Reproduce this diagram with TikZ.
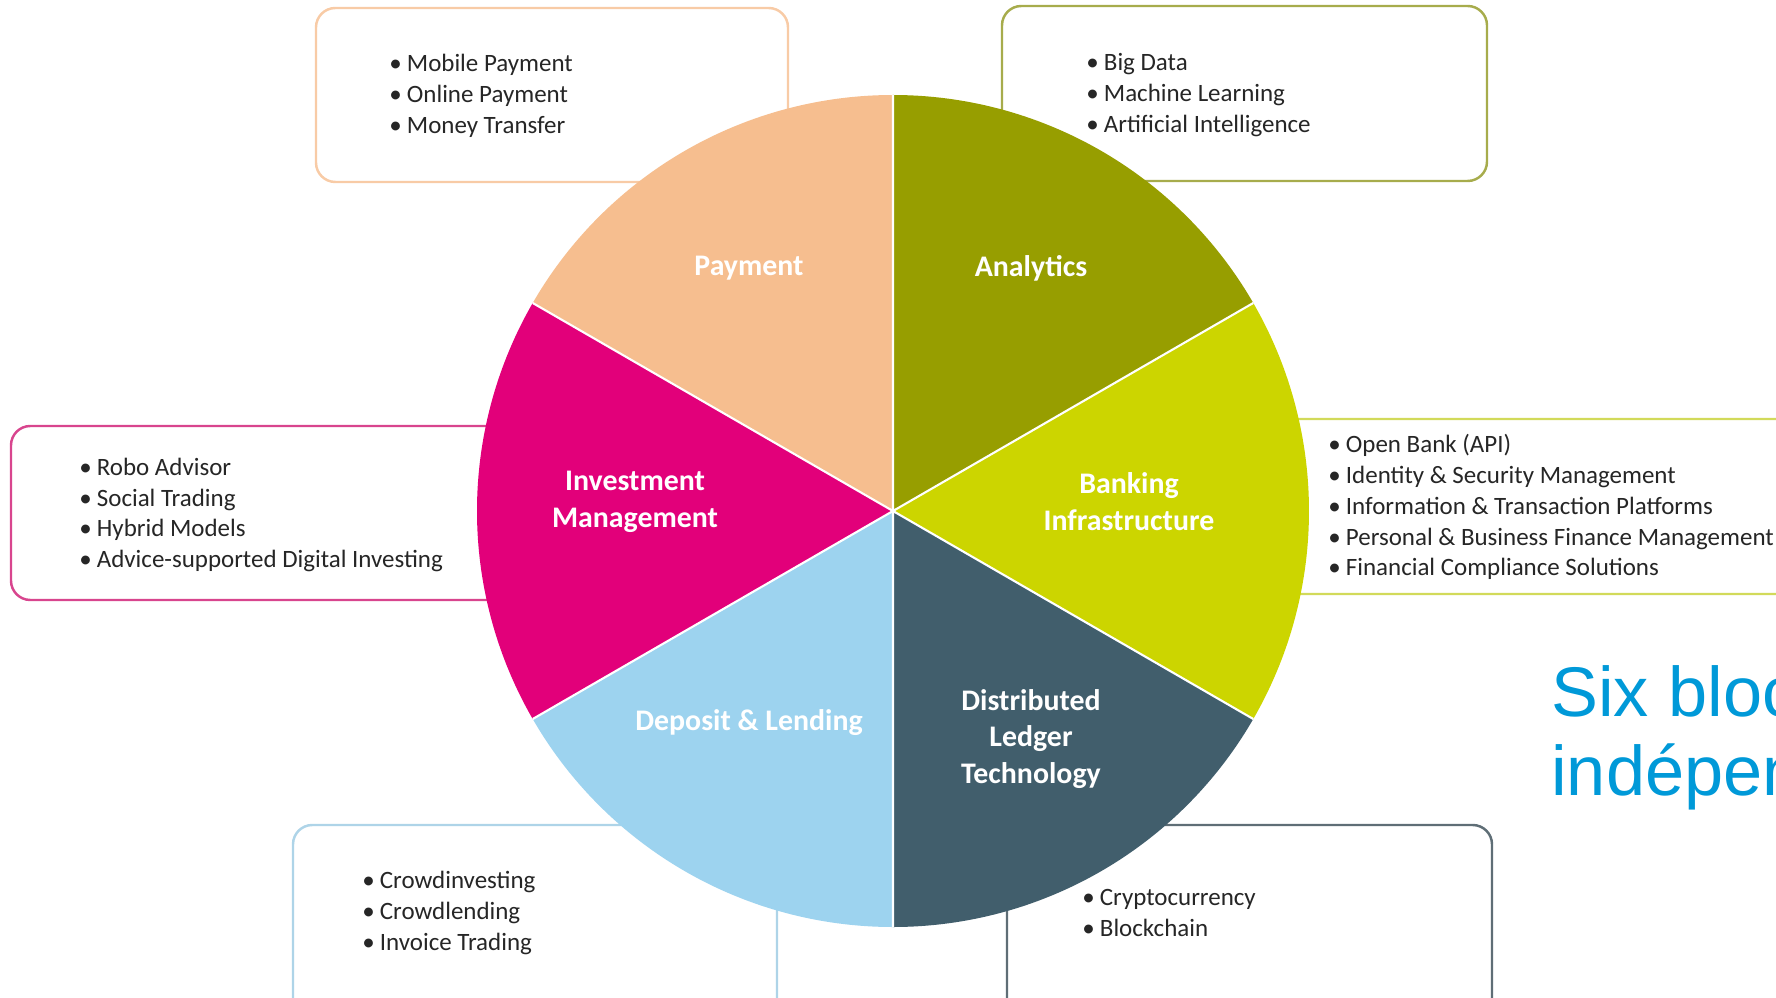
\documentclass[tikz,border=0pt]{standalone}
\usepackage{fontspec}
\setmainfont{Carlito}
\newfontfamily\titlefont{Liberation Sans}

\definecolor{paycol}{HTML}{F6BE8F}
\definecolor{anacol}{HTML}{979E00}
\definecolor{bankcol}{HTML}{CCD500}
\definecolor{dltcol}{HTML}{415E6C}
\definecolor{depcol}{HTML}{9DD3EF}
\definecolor{invcol}{HTML}{E2007A}
\definecolor{payline}{HTML}{F8CBA6}
\definecolor{analine}{HTML}{A7AC4C}
\definecolor{bankline}{HTML}{D2DA5A}
\definecolor{dltline}{HTML}{5F6E76}
\definecolor{depline}{HTML}{AED4E8}
\definecolor{invline}{HTML}{D8458E}
\definecolor{textgray}{HTML}{262626}
\definecolor{sixblue}{HTML}{0099D8}

\tikzset{
  seglabel/.style={text=white, font=\bfseries\fontsize{17}{21}\selectfont, align=center},
  itemlist/.style={text=textgray, font=\fontsize{14.2}{17.6}\selectfont, align=left, anchor=west, inner sep=0pt},
  listbox/.style={line width=1.4pt, rounded corners=11pt, fill=white},
}
\newcommand{\itm}[1]{\makebox[10pt][l]{\textbullet}#1}

\begin{document}
\begin{tikzpicture}[scale=0.2]
\useasboundingbox (0,0) rectangle (177.6,99.7);
\clip (0,0) rectangle (177.6,99.7);

% boxes behind the wheel
\draw[listbox, draw=payline] (31.6,81.5) rectangle (78.8,98.9);
\draw[listbox, draw=analine] (100.2,81.6) rectangle (148.7,99.1);
\draw[listbox, draw=invline] (1.1,39.7) rectangle (55,57.1);
\draw[listbox, draw=bankline] (120,40.3) rectangle (182,57.8);
\draw[listbox, draw=depline] (29.3,-3) rectangle (77.7,17.2);
\draw[listbox, draw=dltline] (100.7,-3) rectangle (149.2,17.2);

% wheel
\coordinate (c) at (89.3,48.6);
\fill[paycol] (c) -- ++(90:41.6) arc[start angle=90, end angle=150, radius=41.6] -- cycle;
\fill[invcol] (c) -- ++(150:41.6) arc[start angle=150, end angle=210, radius=41.6] -- cycle;
\fill[depcol] (c) -- ++(210:41.6) arc[start angle=210, end angle=270, radius=41.6] -- cycle;
\fill[dltcol] (c) -- ++(270:41.6) arc[start angle=270, end angle=330, radius=41.6] -- cycle;
\fill[bankcol] (c) -- ++(-30:41.6) arc[start angle=-30, end angle=30, radius=41.6] -- cycle;
\fill[anacol] (c) -- ++(30:41.6) arc[start angle=30, end angle=90, radius=41.6] -- cycle;
\draw[white, line width=1.2pt] (c) -- ++(90:41.6) (c) -- ++(150:41.6) (c) -- ++(210:41.6)
  (c) -- ++(270:41.6) (c) -- ++(330:41.6) (c) -- ++(30:41.6);

% segment names
\node[seglabel] (pay) at (74.9,72.9) {Payment};
\node[seglabel] (ana) at (103.1,72.9) {Analytics};
\node[seglabel] (inv) at (63.5,49.5) {Investment\\Management};
\node[seglabel] (bank) at (112.9,49.5) {Banking\\Infrastructure};
\node[seglabel] (dep) at (74.9,27.4) {Deposit \& Lending};
\node[seglabel] (dlt) at (103.1,25.8) {Distributed\\Ledger\\Technology};

% lists
\node[itemlist] (paylist) at (38.9,90.1) {\itm{Mobile Payment}\\\itm{Online Payment}\\\itm{Money Transfer}};
\node[itemlist] (analist) at (108.6,90.2) {\itm{Big Data}\\\itm{Machine Learning}\\\itm{Artificial Intelligence}};
\node[itemlist] (invlist) at (7.9,48.2) {\itm{Robo Advisor}\\\itm{Social Trading}\\\itm{Hybrid Models}\\\itm{Advice-supported Digital Investing}};
\node[itemlist] (banklist) at (132.8,49.0) {\itm{Open Bank (API)}\\\itm{Identity \& Security Management}\\\itm{Information \& Transaction Platforms}\\\itm{Personal \& Business Finance Management}\\\itm{Financial Compliance Solutions}};
\node[itemlist] (deplist) at (36.2,8.4) {\itm{Crowdinvesting}\\\itm{Crowdlending}\\\itm{Invoice Trading}};
\node[itemlist] (dltlist) at (108.2,8.4) {\itm{Cryptocurrency}\\\itm{Blockchain}};

% side title
\node[text=sixblue, font=\titlefont\fontsize{40}{45}\selectfont, align=left, anchor=base west, inner sep=0pt] (six) at (155.1,20.1) {Six bloc\\indépen};
\end{tikzpicture}
\end{document}
